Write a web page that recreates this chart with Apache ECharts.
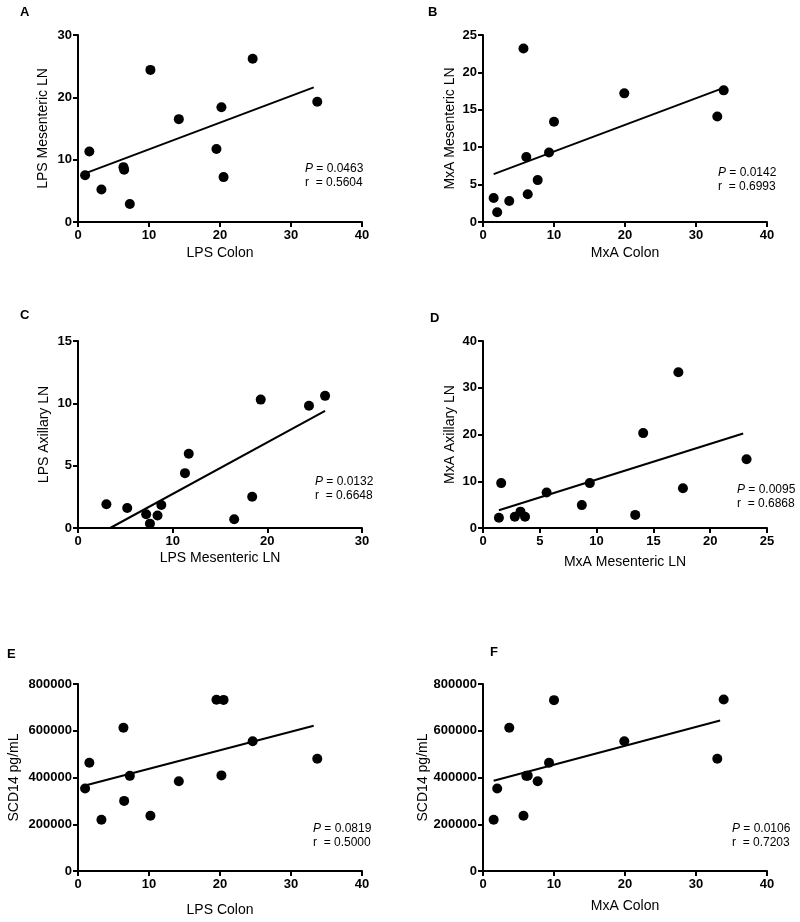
<!DOCTYPE html>
<html>
<head>
<meta charset="utf-8">
<script src="https://cdn.jsdelivr.net/npm/echarts@6/dist/echarts.min.js"></script>
<style>
html,body{margin:0;padding:0;background:#fff;}
#chart{width:800px;height:922px;}
</style>
</head>
<body>
<div id="chart"></div>
<script>
// ---- Data ----
const lpsColon = [1.0, 1.6, 3.3, 6.4, 6.5, 7.3, 10.2, 14.2, 19.5, 20.2, 20.5, 24.6, 33.7];
const lpsMesA  = [7.5, 11.3, 5.2, 8.8, 8.4, 2.9, 24.4, 16.5, 11.7, 18.4, 7.2, 26.2, 19.3];
const fitA = [[1.0, 7.8], [33.2, 21.6]];

const mxaColon = [1.5, 2.0, 3.7, 5.7, 6.1, 6.3, 7.7, 9.3, 10.0, 19.9, 33.0, 33.9];
const mxaMesB  = [3.2, 1.3, 2.8, 23.2, 8.7, 3.7, 5.6, 9.3, 13.4, 17.2, 14.1, 17.6];
const fitB = [[1.5, 6.4], [33.8, 17.9]];

const lpsMesC  = [3.0, 5.2, 7.2, 7.6, 8.4, 8.8, 11.3, 11.7, 16.5, 18.4, 19.3, 24.4, 26.1];
const lpsAxC   = [1.9, 1.6, 1.1, 0.35, 1.0, 1.85, 4.4, 5.95, 0.7, 2.5, 10.3, 9.8, 10.6];
const fitC = [[3.4, 0.0], [26.1, 9.4]];

const mxaMesD  = [1.4, 1.6, 2.8, 3.3, 3.7, 5.6, 8.7, 9.4, 13.4, 14.1, 17.2, 17.6, 23.2];
const mxaAxD   = [2.2, 9.6, 2.4, 3.5, 2.4, 7.6, 4.9, 9.6, 2.8, 20.3, 33.3, 8.5, 14.7];
const fitD = [[1.4, 3.8], [22.9, 20.2]];

const scd14E   = [353000, 463000, 219000, 613000, 300000, 407000, 236000, 384000, 733000, 409000, 732000, 555000, 480000];
const fitE = [[1.0, 366000], [33.2, 621000]];

const scd14F   = [219000, 353000, 613000, 236000, 407000, 408000, 384000, 463000, 731000, 555000, 480000, 734000];
const fitF = [[1.5, 386000], [33.4, 644000]];

const stats = [
  {p: '0.0463', r: '0.5604'},
  {p: '0.0142', r: '0.6993'},
  {p: '0.0132', r: '0.6648'},
  {p: '0.0095', r: '0.6868'},
  {p: '0.0819', r: '0.5000'},
  {p: '0.0106', r: '0.7203'}
];
const panelLetters = ['A', 'B', 'C', 'D', 'E', 'F'];
const xTitles = ['LPS Colon', 'MxA Colon', 'LPS Mesenteric LN', 'MxA Mesenteric LN', 'LPS Colon', 'MxA Colon'];
const yTitles = ['LPS Mesenteric LN', 'MxA Mesenteric LN', 'LPS Axillary LN', 'MxA Axillary LN', 'SCD14 pg/mL', 'SCD14 pg/mL'];
const xMax = [40, 40, 30, 25, 40, 40];
const xInt = [10, 10, 10, 5, 10, 10];
const yMax = [30, 25, 15, 40, 800000, 800000];
const yInt = [10, 5, 5, 10, 200000, 200000];

// ---- Layout ----
const zip = (a, b) => a.map((v, i) => [v, b[i]]);
const points = [
  zip(lpsColon, lpsMesA), zip(mxaColon, mxaMesB), zip(lpsMesC, lpsAxC),
  zip(mxaMesD, mxaAxD), zip(lpsColon, scd14E), zip(mxaColon, scd14F)
];
const fits = [fitA, fitB, fitC, fitD, fitE, fitF];

const grids = [
  {left: 78, top: 35, width: 284, height: 187},
  {left: 483, top: 35, width: 284, height: 187},
  {left: 78, top: 341, width: 284, height: 187},
  {left: 483, top: 341, width: 284, height: 187},
  {left: 78, top: 684, width: 284, height: 187},
  {left: 483, top: 684, width: 284, height: 187}
];
const yNameGap = [28, 26, 27, 26, 57, 51];
const xNameGap = [24, 24, 23, 27, 32, 28];
const letterPos = [[20, 6], [428, 6], [20, 309], [430, 312], [7, 648], [490, 646]];
const statPos = [[305, 162], [718, 166], [315, 475], [737, 483], [313, 822], [732, 822]];

const FONT = 'Liberation Sans, Arial, Helvetica, sans-serif';
const axisCommon = {
  axisLine: {show: true, onZero: false, lineStyle: {color: '#000', width: 2}},
  axisTick: {show: true, length: 5, lineStyle: {color: '#000', width: 2}},
  splitLine: {show: false},
  nameLocation: 'middle',
  nameTextStyle: {color: '#000', fontFamily: FONT, fontSize: 14}
};
const labelStyle = {color: '#000', fontFamily: FONT, fontWeight: 'bold', fontSize: 13,
  formatter: v => String(v)};

const xAxis = [], yAxis = [], series = [], graphic = [];
for (let i = 0; i < 6; i++) {
  xAxis.push(Object.assign({}, axisCommon, {
    type: 'value', gridIndex: i, min: 0, max: xMax[i], interval: xInt[i],
    name: xTitles[i], nameGap: xNameGap[i],
    axisLabel: Object.assign({}, labelStyle, {margin: 7})
  }));
  yAxis.push(Object.assign({}, axisCommon, {
    type: 'value', gridIndex: i, min: 0, max: yMax[i], interval: yInt[i],
    name: yTitles[i], nameGap: yNameGap[i],
    axisLabel: Object.assign({}, labelStyle, {margin: 6})
  }));
  series.push({
    type: 'scatter', xAxisIndex: i, yAxisIndex: i, data: points[i],
    symbol: 'circle', symbolSize: 10, itemStyle: {color: '#000', opacity: 1}, z: 3
  });
  series.push({
    type: 'line', xAxisIndex: i, yAxisIndex: i, data: fits[i],
    symbol: 'none', lineStyle: {color: '#000', width: 2}, z: 2
  });
  graphic.push({
    type: 'text', left: letterPos[i][0], top: letterPos[i][1],
    style: {text: panelLetters[i], fill: '#000', font: 'bold 13px ' + FONT}
  });
  graphic.push({
    type: 'text', left: statPos[i][0], top: statPos[i][1],
    style: {
      text: '{i|P} = ' + stats[i].p + '\nr  = ' + stats[i].r,
      fill: '#000', font: '12px ' + FONT, lineHeight: 14,
      rich: {i: {fontStyle: 'italic', fontSize: 12, fontFamily: FONT, fill: '#000'}}
    }
  });
}

const chart = echarts.init(document.getElementById('chart'), null, {renderer: 'canvas'});
chart.setOption({
  backgroundColor: '#fff',
  animation: false,
  grid: grids,
  xAxis: xAxis,
  yAxis: yAxis,
  series: series,
  graphic: graphic
});
</script>
</body>
</html>
